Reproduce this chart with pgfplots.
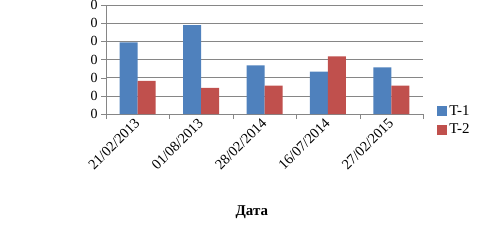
\documentclass[border=0pt]{standalone}
\usepackage{pgfplots}
\pgfplotsset{compat=1.18}
\usepackage{fontspec}
\setmainfont{Liberation Serif}
\definecolor{tblue}{HTML}{4F81BD}
\definecolor{tred}{HTML}{C0504D}
\definecolor{axgray}{HTML}{868686}
\begin{document}
\begin{tikzpicture}[x=1bp,y=1bp]
\path[use as bounding box] (0,0) rectangle (488,242);
\begin{axis}[
  at={(106bp,128bp)}, anchor=south west,
  scale only axis, width=317bp, height=109bp,
  ybar=0pt, bar width=0.284,
  xmin=-0.5, xmax=4.5, ymin=0, ymax=6,
  axis x line=bottom, axis y line=left,
  axis line style={draw=axgray, -},
  xtick={0,...,4},
  xticklabels={21/02/2013,01/08/2013,28/02/2014,16/07/2014,27/02/2015},
  x tick style={draw=none},
  minor xtick={-0.5,0.5,...,4.5},
  minor x tick style={draw=axgray},
  minor tick length=5bp,
  ytick={0,...,6},
  yticklabels={0,0,0,0,0,0,0},
  y tick style={draw=axgray},
  major tick length=5bp,
  tick align=outside,
  ymajorgrids, grid style={draw=axgray},
  x tick label style={rotate=45, anchor=east, font=\fontsize{14.5}{16}\selectfont, yshift=-1bp, inner sep=1.5bp},
  y tick label style={font=\fontsize{14}{16}\selectfont},
  xlabel={Дата},
  xlabel style={at={(rel axis cs:0.46,-0.9)}, anchor=center, font=\fontsize{15}{17}\selectfont\bfseries},
  legend style={at={(rel axis cs:1.035,-0.06)}, anchor=west, draw=none, fill=none, font=\fontsize{15}{17}\selectfont, row sep=3bp},
  legend image code/.code={\fill[#1] (0bp,-5bp) rectangle (10bp,5bp);},
]
\addplot[fill=tblue, draw=none] coordinates {(0,3.94) (1,4.89) (2,2.67) (3,2.33) (4,2.56)};
\addplot[fill=tred, draw=none] coordinates {(0,1.83) (1,1.44) (2,1.56) (3,3.17) (4,1.56)};
\legend{T-1,T-2}
\end{axis}
\end{tikzpicture}
\end{document}
